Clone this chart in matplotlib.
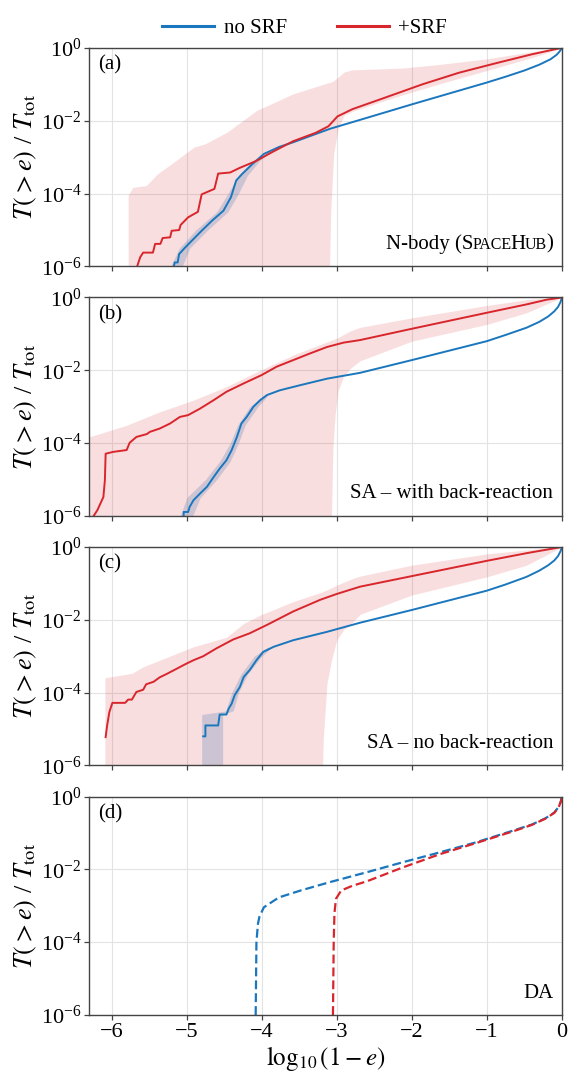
import numpy as np
import matplotlib
matplotlib.use('Agg')
import matplotlib.pyplot as plt
from matplotlib.ticker import FixedLocator, NullLocator, LogFormatterSciNotation

plt.rcParams['font.family'] = ['Liberation Serif', 'DejaVu Serif']
plt.rcParams['mathtext.fontset'] = 'stix'
plt.rcParams['axes.unicode_minus'] = True

BLUE = '#1a77bd'
RED = '#d8262c'

# all curves as (log10(1-e), log10 T(>e)/Ttot)
# ---- (a) N-body
a_red_x = [-5.66, -5.62, -5.58, -5.45, -5.42, -5.35, -5.32, -5.22, -5.20, -5.10, -5.08, -4.98,
           -4.85, -4.80, -4.72, -4.63, -4.58, -4.42, -4.30, -4.07, -3.87, -3.58, -3.28, -3.11,
           -2.99, -2.79, -2.35, -1.86, -1.37, -0.88, -0.39, -0.10, 0.0]
a_red_y = [-6.00, -5.75, -5.62, -5.62, -5.38, -5.38, -5.22, -5.20, -5.02, -5.00, -4.86, -4.65,
           -4.50, -4.02, -3.95, -3.87, -3.45, -3.42, -3.30, -3.10, -2.87, -2.56, -2.33, -2.15,
           -1.88, -1.68, -1.36, -1.00, -0.68, -0.42, -0.17, -0.04, 0.0]
a_blue_x = [-5.17, -5.16, -5.12, -5.10, -5.02, -4.93, -4.80, -4.66, -4.51, -4.41, -4.34, -4.26,
            -4.12, -3.97, -3.77, -3.58, -3.09, -2.60, -2.00, -1.50, -1.00, -0.75, -0.50, -0.30,
            -0.15, -0.07, -0.03, -0.01, 0.0]
a_blue_y = [-6.00, -5.89, -5.89, -5.66, -5.48, -5.29, -5.02, -4.74, -4.47, -4.10, -3.64, -3.46,
            -3.18, -2.91, -2.72, -2.59, -2.22, -1.92, -1.55, -1.25, -0.95, -0.79, -0.62, -0.46,
            -0.31, -0.19, -0.10, -0.04, 0.0]
a_rband_x = [-5.78, -5.72, -5.54, -5.39, -5.20, -4.90, -4.75, -4.46, -4.07, -3.58, -3.12, -3.10,
             -3.08, -3.04, -2.98, -2.90, -2.79, -2.35, -2.11, -1.62, -1.00, -0.39, 0.0]
a_rband_hi = [-4.05, -3.83, -3.78, -3.46, -3.18, -2.72, -2.63, -2.31, -1.72, -1.26, -0.96, -0.95,
              -0.94, -0.90, -0.80, -0.66, -0.60, -0.57, -0.55, -0.45, -0.30, -0.10, 0.0]
a_rband_lo = [-7.0, -7.0, -7.0, -7.0, -7.0, -7.0, -7.0, -7.0, -7.0, -7.0, -7.0, -6.5,
              -4.5, -2.9, -2.2, -1.85, -1.74, -1.44, -1.28, -0.98, -0.62, -0.26, 0.0]
a_bband_y = [-6.2, -5.5, -5.0, -4.5, -4.0, -3.5, -3.1, -2.95]
a_bband_l = [-5.26, -5.10, -4.88, -4.60, -4.45, -4.31, -4.12, -3.99]
a_bband_r = [-5.10, -4.96, -4.72, -4.45, -4.31, -4.19, -4.03, -3.95]

# ---- (b) SA with back-reaction
b_red_x = [-6.24, -6.19, -6.13, -6.11, -6.09, -6.08, -5.98, -5.80, -5.76, -5.67, -5.53, -5.49,
           -5.36, -5.22, -5.09, -4.98, -4.82, -4.64, -4.47, -4.24, -4.00, -3.80, -3.58, -3.36,
           -3.13, -2.91, -2.69, -2.00, -1.00, -0.47, -0.20, 0.0]
b_red_y = [-6.00, -5.84, -5.57, -5.48, -5.02, -4.29, -4.24, -4.19, -3.99, -3.83, -3.75, -3.69,
           -3.60, -3.46, -3.28, -3.23, -3.05, -2.82, -2.59, -2.36, -2.13, -1.90, -1.72, -1.54,
           -1.36, -1.24, -1.17, -0.86, -0.42, -0.19, -0.06, 0.0]
b_blue_x = [-5.04, -5.04, -4.98, -4.96, -4.91, -4.82, -4.73, -4.64, -4.56, -4.47, -4.40, -4.33,
            -4.27, -4.20, -4.11, -4.02, -3.93, -3.76, -3.49, -3.13, -2.69, -2.00, -1.00, -0.75,
            -0.47, -0.30, -0.18, -0.10, -0.05, -0.02, -0.005, 0.0]
b_blue_y = [-6.00, -5.89, -5.89, -5.75, -5.57, -5.38, -5.20, -4.93, -4.70, -4.47, -4.19, -3.83,
            -3.46, -3.28, -3.00, -2.82, -2.68, -2.55, -2.41, -2.23, -2.07, -1.72, -1.20, -1.03,
            -0.83, -0.67, -0.52, -0.38, -0.26, -0.14, -0.05, 0.0]
b_rband_x = [-6.30, -6.16, -5.80, -5.36, -4.91, -4.47, -4.02, -3.58, -3.13, -3.08, -3.05, -3.02,
             -2.98, -2.91, -2.82, -2.69, -2.00, -1.00, -0.47, 0.0]
b_rband_hi = [-3.83, -3.74, -3.51, -3.14, -2.82, -2.45, -2.00, -1.58, -1.22, -1.18, -1.16, -1.13,
              -1.10, -1.02, -0.92, -0.82, -0.56, -0.22, -0.06, 0.0]
b_rband_lo = [-7.0, -7.0, -7.0, -7.0, -7.0, -7.0, -7.0, -7.0, -7.0, -7.0, -4.1, -3.19,
              -2.55, -2.18, -1.95, -1.74, -1.20, -0.74, -0.42, 0.0]
b_bband_y = [-6.2, -5.5, -5.0, -4.5, -4.0, -3.5, -3.0, -2.7]
b_bband_l = [-5.12, -5.00, -4.75, -4.56, -4.42, -4.32, -4.16, -3.98]
b_bband_r = [-4.96, -4.82, -4.60, -4.42, -4.31, -4.22, -4.05, -3.92]

# ---- (c) SA no back-reaction
c_red_x = [-6.08, -6.06, -6.03, -5.99, -5.82, -5.78, -5.73, -5.67, -5.58, -5.54, -5.44, -5.36,
           -5.27, -5.13, -5.02, -4.91, -4.78, -4.60, -4.38, -4.16, -3.93, -3.58, -3.22, -3.00,
           -2.69, -2.00, -1.00, -0.47, 0.0]
c_red_y = [-5.22, -4.90, -4.53, -4.28, -4.28, -4.19, -4.19, -3.98, -3.92, -3.77, -3.70, -3.58,
           -3.49, -3.34, -3.22, -3.11, -3.00, -2.78, -2.54, -2.37, -2.14, -1.77, -1.45, -1.29,
           -1.09, -0.80, -0.38, -0.17, 0.0]
c_blue_x = [-4.78, -4.75, -4.75, -4.58, -4.56, -4.47, -4.44, -4.40, -4.36, -4.29, -4.24, -4.16,
            -4.07, -3.98, -3.84, -3.58, -3.13, -2.69, -2.00, -1.00, -0.75, -0.47, -0.30, -0.18,
            -0.10, -0.05, -0.02, -0.005, 0.0]
c_blue_y = [-5.20, -5.20, -4.90, -4.90, -4.60, -4.60, -4.44, -4.30, -4.07, -3.84, -3.57, -3.38,
            -3.11, -2.88, -2.74, -2.56, -2.33, -2.08, -1.73, -1.20, -1.03, -0.82, -0.65, -0.50,
            -0.37, -0.25, -0.13, -0.05, 0.0]
c_rband_x = [-6.09, -5.73, -5.58, -5.36, -4.91, -4.47, -4.24, -4.02, -3.58, -3.20, -3.18, -3.13,
             -3.07, -3.00, -2.91, -2.78, -2.69, -2.00, -1.00, -0.47, 0.0]
c_rband_hi = [-3.59, -3.47, -3.29, -3.11, -2.74, -2.48, -2.10, -1.87, -1.50, -1.24, -1.22, -1.18,
              -1.12, -1.05, -0.97, -0.86, -0.80, -0.50, -0.19, -0.08, 0.0]
c_rband_lo = [-7.0, -7.0, -7.0, -7.0, -7.0, -7.0, -7.0, -7.0, -7.0, -7.0, -5.3, -3.75,
              -3.11, -2.56, -2.28, -2.05, -1.85, -1.32, -0.82, -0.50, 0.0]
c_bband_y = [-6.2, -4.6, -4.5, -4.0, -3.5, -3.0, -2.75]
c_bband_l = [-4.80, -4.80, -4.48, -4.40, -4.28, -4.10, -3.92]
c_bband_r = [-4.52, -4.52, -4.38, -4.31, -4.19, -4.00, -3.86]

# ---- (d) DA (dashed, no bands)
d_blue_x = [-4.08, -4.07, -4.05, -4.03, -3.97, -3.77, -3.48, -3.09, -2.60, -2.11, -1.62, -1.13,
            -0.64, -0.40, -0.22, -0.10, -0.04, -0.01, 0.0]
d_blue_y = [-6.00, -4.00, -3.50, -3.30, -3.04, -2.77, -2.58, -2.35, -2.08, -1.80, -1.53, -1.25,
            -0.93, -0.77, -0.60, -0.44, -0.28, -0.12, 0.0]
d_red_x = [-3.05, -3.04, -3.03, -3.01, -2.94, -2.79, -2.60, -2.11, -1.62, -1.13, -0.64, -0.40,
           -0.22, -0.10, -0.04, -0.01, 0.0]
d_red_y = [-6.00, -4.00, -3.20, -2.81, -2.58, -2.45, -2.33, -1.94, -1.58, -1.27, -0.95, -0.78,
           -0.61, -0.45, -0.29, -0.12, 0.0]

panel_tags = ['(a)', '(b)', '(c)', '(d)']


def p10(v):
    return 10.0 ** np.asarray(v)


def smallcaps(ax, parts, x=0.982, y=0.08):
    # fake small caps: chain pieces right to left on a common baseline
    # each part: (text, fontsize, nudge in points to tighten the gap)
    prev = None
    for txt, size, nudge in reversed(parts):
        if prev is None:
            prev = ax.text(x, y, txt, transform=ax.transAxes, ha='right',
                           va='baseline', fontsize=size)
        else:
            prev = ax.annotate(txt, xy=(0, y), xycoords=(prev, 'axes fraction'),
                               xytext=(nudge, 0), textcoords='offset points',
                               ha='right', va='baseline', fontsize=size)


fig, axes = plt.subplots(4, 1, figsize=(5.75, 10.85), dpi=100, sharex=True,
                         gridspec_kw=dict(left=0.155, right=0.977, top=0.9558,
                                          bottom=0.0645, hspace=0.142))

sets = [
    (a_red_x, a_red_y, a_blue_x, a_blue_y, a_rband_x, a_rband_lo, a_rband_hi,
     a_bband_y, a_bband_l, a_bband_r),
    (b_red_x, b_red_y, b_blue_x, b_blue_y, b_rband_x, b_rband_lo, b_rband_hi,
     b_bband_y, b_bband_l, b_bband_r),
    (c_red_x, c_red_y, c_blue_x, c_blue_y, c_rband_x, c_rband_lo, c_rband_hi,
     c_bband_y, c_bband_l, c_bband_r),
]

for ax, s in zip(axes[:3], sets):
    rx, ry, bx, by, fx, flo, fhi, gy, gl, gr = s
    ax.fill_between(fx, p10(flo), p10(fhi), color=RED, alpha=0.15, lw=0)
    ax.fill_betweenx(p10(gy), gl, gr, color='#4a78b0', alpha=0.25, lw=0)
    ax.plot(bx, p10(by), color=BLUE, lw=1.4)
    ax.plot(rx, p10(ry), color=RED, lw=1.4)

ax = axes[3]
ax.plot(d_blue_x, p10(d_blue_y), color=BLUE, lw=1.6, ls=(0, (4, 1.8)))
ax.plot(d_red_x, p10(d_red_y), color=RED, lw=1.6, ls=(0, (4, 1.8)))

for ax, tag in zip(axes, panel_tags):
    ax.set_yscale('log')
    ax.set_ylim(1e-6, 1)
    ax.set_xlim(-6.3, 0)
    ax.yaxis.set_major_locator(FixedLocator([1e-6, 1e-4, 1e-2, 1]))
    ax.yaxis.set_major_formatter(LogFormatterSciNotation())
    ax.yaxis.set_minor_locator(NullLocator())
    ax.set_xticks([-6, -5, -4, -3, -2, -1, 0])
    ax.grid(True, color='#e3e3e3', lw=0.8)
    ax.set_axisbelow(True)
    for sp in ax.spines.values():
        sp.set_color('#444444')
        sp.set_linewidth(1.0)
    ax.tick_params(direction='out', length=3.5, width=0.9, color='#444444',
                   labelsize=16, pad=2)
    ax.set_ylabel(r'$T(>e)$ / $T_{\rm tot}$', fontsize=19, labelpad=1)
    ax.text(0.018, 0.965, tag, transform=ax.transAxes, ha='left', va='top', fontsize=15)

smallcaps(axes[0], [('N-body (S', 15, 0.3), ('PACE', 11.5, 1.3), ('H', 15, 0.3),
                    ('UB', 11.5, 0.3), (')', 15, 0)])
axes[1].text(0.982, 0.08, 'SA – with back-reaction', transform=axes[1].transAxes,
             ha='right', va='baseline', fontsize=15)
axes[2].text(0.982, 0.08, 'SA – no back-reaction', transform=axes[2].transAxes,
             ha='right', va='baseline', fontsize=15)
axes[3].text(0.982, 0.08, 'DA', transform=axes[3].transAxes,
             ha='right', va='baseline', fontsize=15)

axes[3].set_xlabel(r'$\log_{10}(1-e)$', fontsize=18, labelpad=2)

h1, = axes[0].plot([], [], color=BLUE, lw=2.2)
h2, = axes[0].plot([], [], color=RED, lw=2.2)
fig.legend([h1, h2], ['no SRF', '+SRF'], loc='upper center',
           bbox_to_anchor=(0.53, 1.0), ncol=2, frameon=False, fontsize=15,
           handlelength=2.5, columnspacing=2.4, handletextpad=0.45)

fig.savefig('out.png', dpi=100)
